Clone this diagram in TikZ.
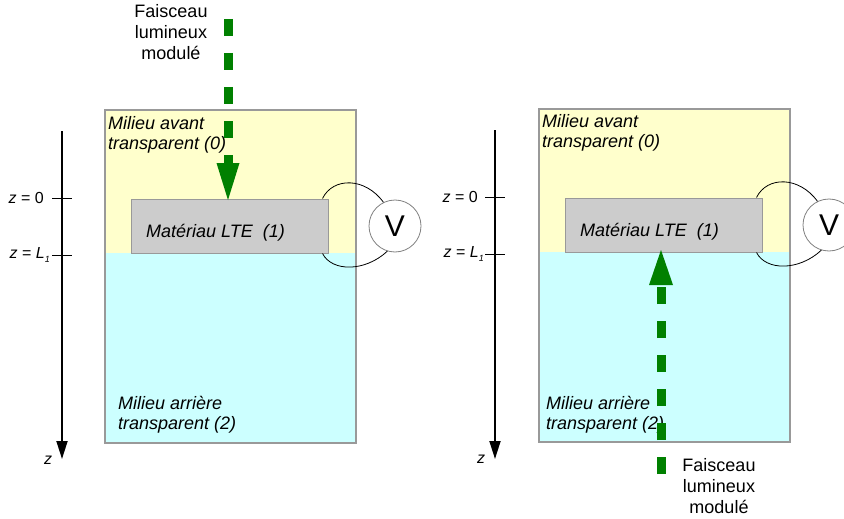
\documentclass[tikz,border=0pt]{standalone}
\usepackage{fontspec}
\setmainfont{Liberation Sans}
\usetikzlibrary{arrows.meta}
\definecolor{avant}{HTML}{FFFFCC}
\definecolor{arriere}{HTML}{CCFFFF}
\definecolor{matgray}{HTML}{CCCCCC}
\definecolor{edgegray}{HTML}{999999}
\definecolor{beamgreen}{HTML}{008000}
\tikzset{
  lbl/.style={font=\fontsize{18}{20}\selectfont\itshape, inner sep=0pt, align=left, anchor=west},
  beamtxt/.style={font=\fontsize{18}{21}\selectfont, inner sep=0pt, align=center},
  zlbl/.style={font=\fontsize{16}{18}\selectfont, inner sep=0pt, anchor=east},
  mediumbox/.style={draw=edgegray, line width=1.2pt},
  matbox/.style={draw=edgegray, fill=matgray, line width=1pt, minimum width=197pt, minimum height=54pt, inner sep=0pt},
  voltm/.style={circle, draw=gray, fill=white, line width=0.8pt, minimum size=52pt, inner sep=0pt, font=\fontsize{30}{30}\selectfont},
  wire/.style={black, line width=0.8pt},
  axis/.style={black, line width=1.8pt, -{Triangle[length=18pt,width=11pt]}},
  tick/.style={black, line width=1pt},
  shaft/.style={beamgreen, line width=9pt, dash pattern=on 17pt off 17pt},
}
\begin{document}
\begin{tikzpicture}[x=1pt,y=-1pt]
\useasboundingbox (0,0) rectangle (844,519);
\clip (0,0) rectangle (844,519);

% ---------------- left panel ----------------
\fill[avant] (105,110) rectangle (356,253);
\fill[arriere] (105,253) rectangle (356,443);
\draw[mediumbox] (105,110) rectangle (356,443);
\node[matbox] (matL) at (229.5,226) {};
\node[lbl, font=\fontsize{18}{20}\selectfont\itshape] (matLtxt) at (146,233) {Matériau LTE\ \ (1)};
\node[lbl] (avL) at (108,135) {Milieu avant\\transparent (0)};
\node[lbl] (arL) at (118,415) {Milieu arrière\\transparent (2)};
\node[voltm] (VL) at (395,226) {V};
\draw[wire] ([xshift=-6pt]matL.north east) .. controls (333,177) and (365,177) .. (VL.116);
\draw[wire] ([xshift=-6pt]matL.south east) .. controls (332,272) and (365,272) .. (VL.-107);
\coordinate (axLtop) at (62,131);
\coordinate (axLbot) at (62,459);
\draw[axis] (axLtop) -- (axLbot);
\coordinate (t0La) at (52,198); \coordinate (t0Lb) at (72,198);
\coordinate (t1La) at (52,255); \coordinate (t1Lb) at (72,255);
\draw[tick] (t0La) -- (t0Lb);
\draw[tick] (t1La) -- (t1Lb);
\node[zlbl] (z0L) at (44,198) {\textit{z} = 0};
\node[zlbl] (z1L) at (50,255) {\textit{z} = \textit{L}\raisebox{-0.45ex}{\fontsize{9}{9}\selectfont\textit{1}}};
\node[font=\fontsize{16}{18}\selectfont\itshape, inner sep=0pt] (zL) at (48,460) {z};
\coordinate (bLs) at (228,19);
\coordinate (bLe) at (228,163);
\coordinate (bLtip) at (228,200);
\draw[shaft] (bLs) -- (bLe);
\fill[beamgreen] ([xshift=-11.5pt]bLe) -- ([xshift=11.5pt]bLe) -- (bLtip) -- cycle;
\node[beamtxt] (fL) at (171,32) {Faisceau\\lumineux\\modulé};

% ---------------- right panel ----------------
\begin{scope}[shift={(434,-1)}]
\fill[avant] (105,110) rectangle (356,253);
\fill[arriere] (105,253) rectangle (356,443);
\draw[mediumbox] (105,110) rectangle (356,443);
\node[matbox] (matR) at (229.5,226) {};
\node[lbl] (matRtxt) at (146,233) {Matériau LTE\ \ (1)};
\node[lbl] (avR) at (108,134) {Milieu avant\\transparent (0)};
\node[lbl] (arR) at (112,416) {Milieu arrière\\transparent (2)};
\node[voltm] (VR) at (395,226) {V};
\draw[wire] ([xshift=-6pt]matR.north east) .. controls (333,177) and (365,177) .. (VR.116);
\draw[wire] ([xshift=-6pt]matR.south east) .. controls (332,272) and (365,272) .. (VR.-107);
\coordinate (axRtop) at (61,131);
\coordinate (axRbot) at (61,460);
\draw[axis] (axRtop) -- (axRbot);
\coordinate (t0Ra) at (51,198); \coordinate (t0Rb) at (71,198);
\coordinate (t1Ra) at (51,255); \coordinate (t1Rb) at (71,255);
\draw[tick] (t0Ra) -- (t0Rb);
\draw[tick] (t1Ra) -- (t1Rb);
\node[zlbl] (z0R) at (44,198) {\textit{z} = 0};
\node[zlbl] (z1R) at (50,255) {\textit{z} = \textit{L}\raisebox{-0.45ex}{\fontsize{9}{9}\selectfont\textit{1}}};
\node[font=\fontsize{16}{18}\selectfont\itshape, inner sep=0pt] (zR) at (47,460) {z};
\coordinate (bRs) at (227,475);
\coordinate (bRe) at (227,286);
\coordinate (bRtip) at (227,251);
\draw[shaft] (bRs) -- (bRe);
\fill[beamgreen] ([xshift=-12pt]bRe) -- ([xshift=12pt]bRe) -- (bRtip) -- cycle;
\end{scope}
\node[beamtxt] (fR) at (719,486) {Faisceau\\lumineux\\modulé};
\end{tikzpicture}
\end{document}
